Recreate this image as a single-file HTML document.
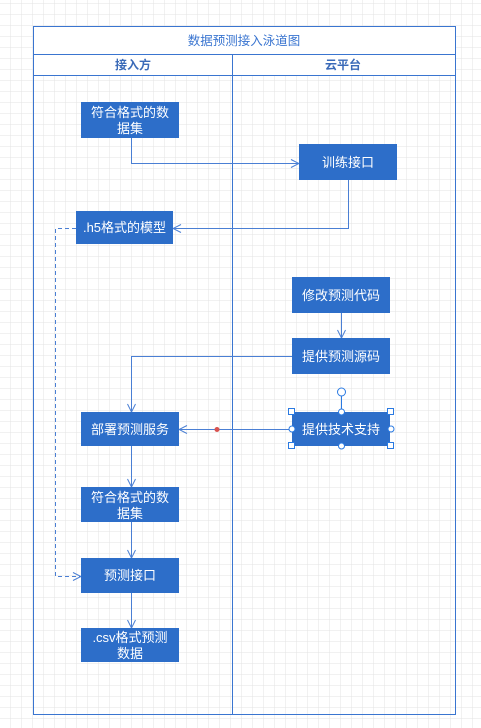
<!DOCTYPE html>
<html><head><meta charset="utf-8"><style>
html,body{margin:0;padding:0;background:#fff;}
svg{display:block;font-family:"Liberation Sans","Noto Sans CJK SC",sans-serif;}
</style></head><body>
<svg width="481" height="728" viewBox="0 0 481 728" xmlns="http://www.w3.org/2000/svg">
<defs>
<pattern id="g" width="11" height="11" patternUnits="userSpaceOnUse" x="0" y="4">
<path d="M11 0V11M0 11H11" fill="none" stroke="#e3e3e3" stroke-width="1"/>
</pattern>
<marker id="a" markerWidth="10" markerHeight="10" refX="9" refY="5" orient="auto" markerUnits="userSpaceOnUse">
<path d="M1 1L9 5L1 9" fill="none" stroke="#4a7fd4" stroke-width="1"/>
</marker>
</defs>
<rect width="481" height="728" fill="#fff"/>
<rect width="481" height="728" fill="url(#g)"/>
<g fill="none" stroke="#3a75d0" stroke-width="1">
<rect x="33.5" y="26.5" width="422" height="688"/>
<line x1="33" y1="54.5" x2="456" y2="54.5"/>
<line x1="33" y1="75.5" x2="456" y2="75.5"/>
<line x1="232.5" y1="54" x2="232.5" y2="714"/>
</g>
<rect x="34" y="27" width="421" height="27" fill="#fff"/>
<rect x="34" y="55" width="198" height="20" fill="#fff"/>
<rect x="233" y="55" width="222" height="20" fill="#fff"/>
<text x="244" y="45" font-size="12.5" fill="#3a75d0" text-anchor="middle">数据预测接入泳道图</text>
<text x="133" y="69" font-size="12" font-weight="bold" fill="#3a6ab8" text-anchor="middle">接入方</text>
<text x="343" y="69" font-size="12" font-weight="bold" fill="#3a6ab8" text-anchor="middle">云平台</text>
<g fill="none" stroke="#4a7fd4" stroke-width="1">
<path d="M131.5 138V163.5H299" marker-end="url(#a)"/>
<path d="M348.5 180V228.5H173" marker-end="url(#a)"/>
<path d="M76 228.5H55.5V576.5H81" stroke-dasharray="4,3" marker-end="url(#a)"/>
<path d="M341.5 313V338" marker-end="url(#a)"/>
<path d="M292 356.5H131.5V412" marker-end="url(#a)"/>
<path d="M292 429.5H179" marker-end="url(#a)"/>
<path d="M131.5 446V487" marker-end="url(#a)"/>
<path d="M131.5 522V558" marker-end="url(#a)"/>
<path d="M131.5 593V628" marker-end="url(#a)"/>
</g>
<circle cx="217" cy="429.5" r="2.5" fill="#d9534f"/>
<g fill="#2d6ec9">
<rect x="81" y="102" width="98" height="36"/>
<rect x="299" y="144" width="98" height="36"/>
<rect x="76" y="211" width="97" height="33"/>
<rect x="292" y="277" width="98" height="36"/>
<rect x="292" y="338" width="98" height="36"/>
<rect x="81" y="412" width="98" height="34"/>
<rect x="292" y="412" width="98" height="34"/>
<rect x="81" y="487" width="98" height="35"/>
<rect x="81" y="558" width="98" height="35"/>
<rect x="81" y="628" width="98" height="34"/>
</g>
<g fill="#fff" font-size="13" text-anchor="middle">
<text x="130" y="117">符合格式的数</text><text x="130" y="133">据集</text>
<text x="348" y="167">训练接口</text>
<text x="124.5" y="232">.h5格式的模型</text>
<text x="341" y="300">修改预测代码</text>
<text x="341" y="361">提供预测源码</text>
<text x="130" y="434">部署预测服务</text>
<text x="341" y="434">提供技术支持</text>
<text x="130" y="502">符合格式的数</text><text x="130" y="518">据集</text>
<text x="130" y="580">预测接口</text>
<text x="130" y="642">.csv格式预测</text><text x="130" y="658">数据</text>
</g>
<g stroke="#2a7ae2" stroke-width="1" fill="#fff">
<line x1="341.5" y1="396" x2="341.5" y2="412"/>
<circle cx="341.5" cy="392" r="4"/>
<rect x="288.5" y="408.5" width="6" height="6"/>
<rect x="387.5" y="408.5" width="6" height="6"/>
<rect x="288.5" y="442.5" width="6" height="6"/>
<rect x="387.5" y="442.5" width="6" height="6"/>
<circle cx="341.5" cy="412" r="3"/>
<circle cx="341.5" cy="446" r="3"/>
<circle cx="292" cy="429" r="3"/>
<circle cx="391" cy="429" r="3"/>
</g>
</svg>
</body></html>
